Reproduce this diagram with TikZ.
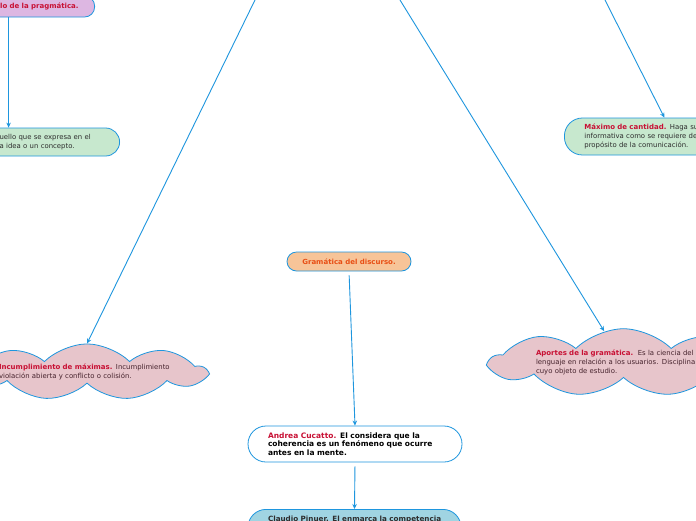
\documentclass[tikz,border=0pt]{standalone}
\usepackage{fontspec}
\setmainfont{DejaVu Sans}
\usetikzlibrary{arrows.meta,shapes.symbols}
\definecolor{linkblue}{RGB}{30,150,222}
\definecolor{crimson}{RGB}{200,16,52}
\definecolor{textdark}{RGB}{45,45,45}
\definecolor{clouddark}{RGB}{70,35,45}
\definecolor{purplefill}{RGB}{221,183,226}
\definecolor{greenfill}{RGB}{199,232,206}
\definecolor{orangefill}{RGB}{247,196,152}
\definecolor{orangetext}{RGB}{232,78,20}
\definecolor{pinkfill}{RGB}{231,197,203}
\definecolor{bluefill}{RGB}{160,212,226}
\newcommand\keyterm[1]{{\bfseries\fontsize{7}{8.7}\selectfont\color{crimson}#1}}

\begin{document}
\begin{tikzpicture}[
      x=1pt,y=-1pt,
      font=\fontsize{6.9}{8.7}\selectfont,
      >={Stealth[length=5pt,width=4.5pt]},
      topic/.style={draw=linkblue,line width=0.8pt,rounded corners=#1,inner xsep=20pt,inner ysep=4pt,align=left,text=textdark},
      topic/.default=14pt,
      puff/.style={cloud,cloud puffs=9,cloud puff arc=90,cloud ignores aspect,draw=linkblue,line width=0.8pt,fill=pinkfill,align=left,text=clouddark,inner sep=0pt},
      bold/.style={font=\bfseries\fontsize{7.5}{8.7}\selectfont},
      conn/.style={->,draw=linkblue,line width=0.9pt}
    ]
      \useasboundingbox (0,0) rectangle (696,520);
      \clip (0,0) rectangle (696,520);
      \fill[white] (0,0) rectangle (696,520);

      \node[topic=10pt,fill=purplefill,anchor=east,text width=140pt,align=right,inner xsep=16pt,minimum height=21pt] (prag) at (95,6.5) {\keyterm{lo de la pragmática.}};
      \node[topic,fill=greenfill,anchor=east,text width=100pt,minimum height=28pt] (defin) at (120,142) {uello que se expresa en el\\a idea o un concepto.};
      \node[topic=18pt,fill=greenfill,anchor=west,text width=160pt,minimum height=37pt] (cant) at (564,136.5) {\keyterm{Máximo de cantidad.} Haga su\\informativa como se requiere de\\propósito de la comunicación.};

      \node[topic=9.5pt,fill=orangefill,inner xsep=4pt,minimum width=124pt,minimum height=19pt,align=center,font=\bfseries\fontsize{7}{8.7}\selectfont,text=orangetext] (gram) at (349,261.5) {Gramática del discurso.};

      \node[puff,minimum width=210pt,minimum height=31pt,text width=176pt] (maxim) at (87,372) {\keyterm{Incumplimiento de máximas.} Incumplimiento\\violación abierta y conflicto o colisión.};
      \node[puff,minimum width=266pt,minimum height=47pt,text width=175pt] (aport) at (623.5,362.5) {\keyterm{Aportes de la gramática.}\ \ Es la ciencia del\\lenguaje en relación a los usuarios. Disciplina\\cuyo objeto de estudio.};

      \node[topic=18pt,fill=white,text width=174pt,minimum height=36pt,bold,text=black] (cucatto) at (355,444) {{\color{crimson}Andrea Cucatto.} El considera que la\\coherencia es un fenómeno que ocurre\\antes en la mente.};
      \node[topic=18pt,fill=bluefill,anchor=north,text width=173pt,inner ysep=6.8pt,text depth=25pt,font=\bfseries\fontsize{7.2}{8.7}\selectfont] (pinuer) at (354.5,509) {\mbox{Claudio Pinuer. El enmarca la competencia}};

      % links coming from above the visible area
      \coordinate (upA) at (255,0);
      \coordinate (upB) at (400,0);
      \coordinate (upC) at (605,0);

      \draw[conn] (upA) -- (maxim.north);
      \draw[conn] (upB) -- (aport);
      \draw[conn] (upC) -- (cant.north);
      \draw[conn] (prag.south) -- (prag.south |- defin.north);
      \draw[conn,shorten <=4pt] (gram.south) -- (cucatto.north);
      \draw[conn,shorten <=4pt] (cucatto.south) -- (pinuer.north);
    \end{tikzpicture}
\end{document}
